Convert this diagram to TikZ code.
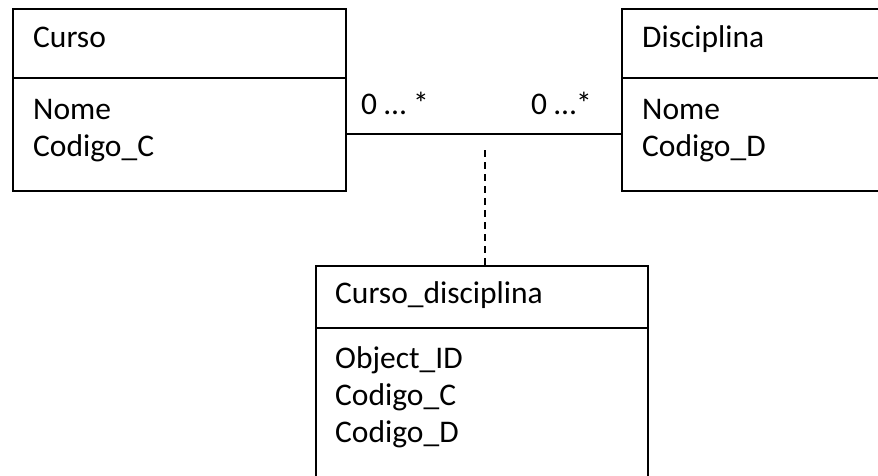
\documentclass[tikz,border=0pt]{standalone}
\usepackage{fontspec}
\setmainfont{Carlito}
\usetikzlibrary{calc}
\newcommand*{\boxwd}{333pt}
\newcommand*{\boxht}{182pt}
\newcommand*{\txtsz}{\fontsize{31.5}{37}\selectfont}

\begin{document}
\begin{tikzpicture}[x=1pt, y=-1pt, font=\txtsz,
    classbox/.style  = {draw, line width=2pt, rectangle, inner sep=0pt, anchor=north west},
    classname/.style = {anchor=base west, inner sep=0pt},
    classattr/.style = {anchor=base west, inner sep=0pt, align=left},
    divider/.style   = {line width=2.6pt},
    assocline/.style = {line width=1.6pt},
    linkline/.style  = {line width=1.6pt, dash pattern=on 7pt off 5pt}]
    \useasboundingbox (0,0) rectangle (878,475);
    \fill [white] (0,0) rectangle (878,475);
    \clip (0,0) rectangle (878,475);
        % classes
        \node [classbox, minimum width=\boxwd, minimum height=\boxht] (curso) at (12,8) {};
        \node [classbox, minimum width=300pt, minimum height=\boxht] (disciplina) at (621,8) {};
        \node [classbox, minimum width=332pt, minimum height=240pt] (cursodisc) at (315,265) {};
        \draw [divider] (curso.west |- 0,78) -- (curso.east |- 0,78);
        \draw [divider] (disciplina.west |- 0,78) -- (disciplina.east |- 0,78);
        \draw [divider] (cursodisc.west |- 0,328) -- (cursodisc.east |- 0,328);
        % texts (base of a multi-line node is its last line)
        \node [classname] (cursoname) at (33,47) {Curso};
        \node [classattr] (cursoattr) at (33,156) {Nome\\Codigo\_C};
        \node [classname] (discname) at (642,47) {Disciplina};
        \node [classattr] (discattr) at (642,156) {Nome\\Codigo\_D};
        \node [classname] (cdname) at (335,303) {Curso\_disciplina};
        \node [classattr] (cdattr) at (335,442) {Object\_ID\\Codigo\_C\\Codigo\_D};
        % association
        \coordinate (assoc) at (485,134);
        \draw [assocline] (curso.east |- assoc) -- (disciplina.west |- assoc);
        \draw [linkline] ($(assoc)+(0,16)$) -- (cursodisc.north -| assoc);
        \node [classname] (multleft) at (361,114) {0 … *};
        \node [classname] (multright) at (531,114) {0 …*};
    \end{tikzpicture}
\end{document}
